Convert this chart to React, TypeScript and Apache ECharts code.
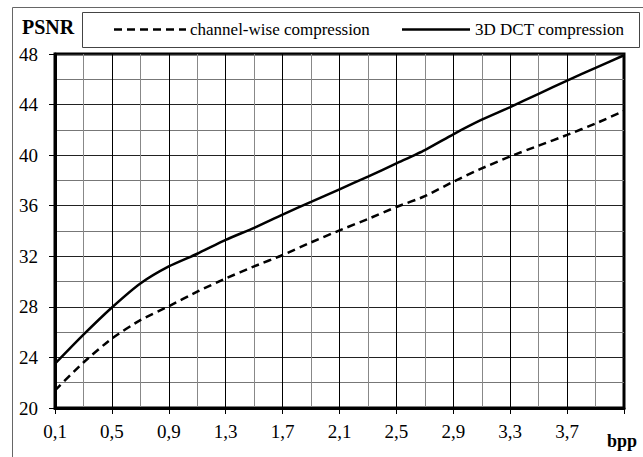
import React, { useEffect, useRef } from "react";
import * as echarts from "echarts";

const xCategories = ["0.1","0.3","0.5","0.7","0.9","1.1","1.3","1.5","1.7","1.9","2.1","2.3","2.5","2.7","2.9","3.1","3.3","3.5","3.7","3.9","4.1"];
const channelWise = [21.4,23.6,25.5,26.95,28.05,29.2,30.25,31.2,32.1,33.1,34.05,34.95,35.9,36.75,37.9,38.95,39.9,40.75,41.6,42.5,43.5];
const dct3d = [23.5,25.8,27.95,29.85,31.2,32.2,33.3,34.25,35.3,36.3,37.3,38.3,39.35,40.4,41.65,42.8,43.8,44.85,45.9,46.9,47.9];
const seriesNames = ["channel-wise compression", "3D DCT compression"];
const yMin = 20;
const yMax = 48;
const yInterval = 4;

const FONT = "Liberation Serif";

export default function App() {
  const ref = useRef<HTMLDivElement>(null);
  useEffect(() => {
    if (!ref.current) return;
    const chart = echarts.init(ref.current, null, { renderer: "svg" });
    chart.setOption({
      animation: false,
      backgroundColor: "#fff",
      textStyle: { fontFamily: FONT, color: "#000" },
      grid: {
        left: 55, top: 54, right: 19, bottom: 49,
        containLabel: false,
        outerBoundsMode: "none",
        show: true, borderColor: "#000", borderWidth: 3,
      },
      xAxis: {
        type: "category",
        boundaryGap: false,
        data: xCategories,
        axisLine: { lineStyle: { color: "#000", width: 3 } },
        axisTick: { show: true, length: 6, interval: 1, lineStyle: { color: "#000", width: 1 } },
        axisLabel: {
          interval: 1,
          margin: 14,
          fontFamily: FONT,
          fontSize: 19,
          color: "#000",
          formatter: (v: string, i: number) =>
            i === xCategories.length - 1 ? "{b|bpp}" : v.replace(".", ","),
          rich: {
            b: { fontFamily: FONT, fontWeight: "bold", fontSize: 18, color: "#000", padding: [10, 4, 0, 0] },
          },
        },
        splitLine: { show: true, interval: 0, lineStyle: { color: ["#000", "#888"], width: 1 } },
      },
      yAxis: {
        type: "value",
        min: yMin, max: yMax, interval: yInterval,
        axisLine: { show: true, lineStyle: { color: "#000", width: 3 } },
        axisTick: { show: true, length: 6, lineStyle: { color: "#000", width: 1 } },
        axisLabel: { margin: 17, fontFamily: FONT, fontSize: 19, color: "#000" },
        splitLine: { show: true, lineStyle: { color: "#222", width: 1 } },
        minorTick: { show: false, splitNumber: 2 },
        minorSplitLine: { show: true, lineStyle: { color: "#777", width: 1 } },
      },
      series: [
        {
          name: seriesNames[0], type: "line", data: channelWise,
          symbol: "none", smooth: 0.2,
          lineStyle: { color: "#000", width: 2.5, type: [8, 5] },
          itemStyle: { color: "#000" },
        },
        {
          name: seriesNames[1], type: "line", data: dct3d,
          symbol: "none", smooth: 0.2,
          lineStyle: { color: "#000", width: 2.5, type: "solid" },
          itemStyle: { color: "#000" },
        },
      ],
      graphic: [
        {
          type: "polyline", silent: true, z: -1,
          shape: { points: [[12.5, 457], [12.5, 7.5], [643, 7.5]] },
          style: { stroke: "#666", lineWidth: 1, fill: null },
        },
        {
          type: "rect", silent: true, z: -1,
          shape: { x: 82.5, y: 12.5, width: 557, height: 35 },
          style: { stroke: "#444", lineWidth: 1, fill: "#fff" },
        },
        {
          type: "line", silent: true,
          shape: { x1: 114, y1: 29.5, x2: 186, y2: 29.5 },
          style: { stroke: "#000", lineWidth: 2.5, lineDash: [8, 5] },
        },
        {
          type: "text", silent: true, x: 190, y: 29.5,
          style: { text: seriesNames[0], fontFamily: FONT, fontSize: 17, fill: "#000", verticalAlign: "middle", align: "left" },
        },
        {
          type: "line", silent: true,
          shape: { x1: 402, y1: 29.5, x2: 470, y2: 29.5 },
          style: { stroke: "#000", lineWidth: 2.5 },
        },
        {
          type: "text", silent: true, x: 475, y: 29.5,
          style: { text: seriesNames[1], fontFamily: FONT, fontSize: 17, fill: "#000", verticalAlign: "middle", align: "left" },
        },
        {
          type: "text", left: 22, top: 17,
          style: { text: "PSNR", fontFamily: FONT, fontWeight: "bold", fontSize: 20, fill: "#000" },
        },
      ],
    });
    return () => chart.dispose();
  }, []);
  return (
    <div
      ref={ref}
      style={{ position: "fixed", left: 0, top: 0, width: 643, height: 457 }}
    />
  );
}
